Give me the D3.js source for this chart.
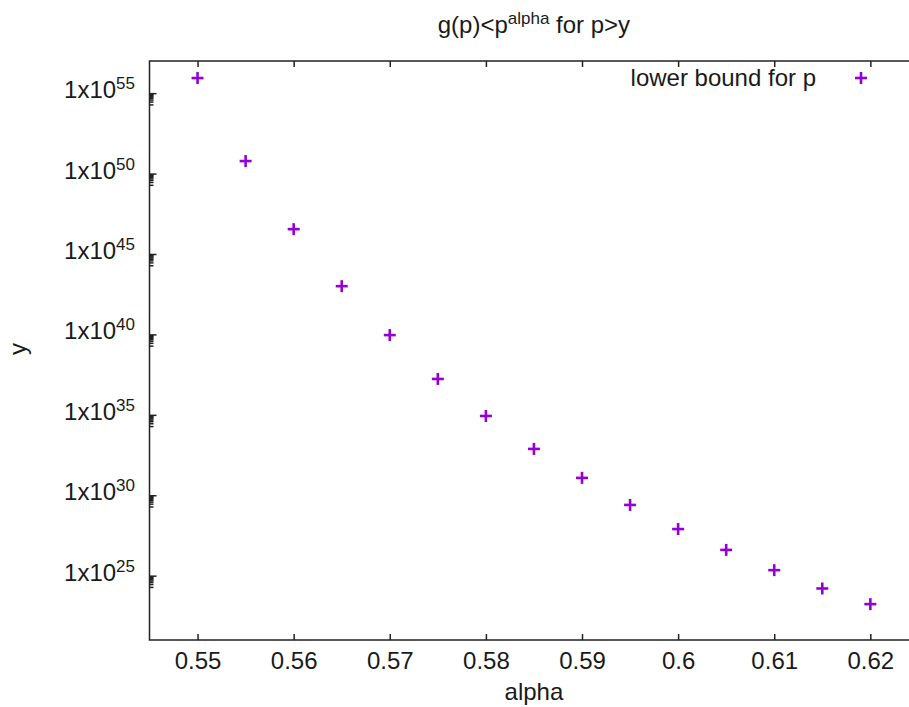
<!DOCTYPE html>
<html>
<head>
<meta charset="utf-8">
<script src="https://cdn.jsdelivr.net/npm/d3@7"></script>
<style>
  body { margin: 0; background: #fff; }
  text { font-family: "Liberation Sans", Arial, sans-serif; fill: #1a1a1a; }
  .axis path, .axis line { stroke: #222; stroke-width: 1.5; }
  .mark { stroke: #9400d3; stroke-width: 2.6; }
</style>
</head>
<body>
<svg id="chart"></svg>
<script>
var width = 909,
    height = 707;

// data
var alphas = [0.55, 0.555, 0.56, 0.565, 0.57, 0.575, 0.58, 0.585, 0.59, 0.595, 0.6, 0.605, 0.61, 0.615, 0.62];
var bounds = [8.7e55, 6.0e50, 3.5e46, 1.0e43, 9.1e39, 1.7e37, 8.5e34, 7.6e32, 1.2e31, 2.5e29, 7.9e27, 4.0e26, 2.2e25, 1.6e24, 1.7e23];
var xTicks = [0.55, 0.56, 0.57, 0.58, 0.59, 0.6, 0.61, 0.62];
var yExponents = [25, 30, 35, 40, 45, 50, 55];

var plotL = 149.5, plotR = 918.4, plotT = 61, plotB = 640;
var fs = 24, sup = 17;

var x = d3.scaleLinear().domain([0.545, 0.625]).range([plotL, plotR]);
var y = d3.scaleLog().domain([1e21, 1e57]).range([plotB, plotT]);

var svg = d3.select("#chart").attr("width", width).attr("height", height);

// border
svg.append("rect")
   .attr("x", plotL).attr("y", plotT)
   .attr("width", plotR - plotL).attr("height", plotB - plotT)
   .attr("fill", "none").attr("stroke", "#222").attr("stroke-width", 1.5);

// x axis (ticks point inward)
var xAxis = svg.append("g")
   .attr("class", "axis")
   .attr("transform", "translate(0," + plotB + ")")
   .call(d3.axisBottom(x).tickValues(xTicks).tickSize(-6).tickPadding(12)
         .tickFormat(function(d) { return d3.format("")(+d.toFixed(2)); }));
xAxis.select(".domain").remove();
xAxis.selectAll("text").attr("font-size", fs).attr("fill", "#1a1a1a");

var xTop = svg.append("g")
   .attr("class", "axis")
   .attr("transform", "translate(0," + plotT + ")")
   .call(d3.axisTop(x).tickValues(xTicks).tickSize(-6).tickFormat(""));
xTop.select(".domain").remove();

// y axis: major ticks every 5 decades, minor ticks at 2..9 x 10^(n-1)
var majors = yExponents.map(function(e) { return Math.pow(10, e); });
var minors = [];
yExponents.forEach(function(e) {
  for (var k = 2; k <= 9; k++) minors.push(k * Math.pow(10, e - 1));
});

var yAxis = svg.append("g")
   .attr("class", "axis")
   .attr("transform", "translate(" + plotL + ",0)")
   .call(d3.axisLeft(y).tickValues(majors).tickSize(-7).tickFormat(""));
yAxis.select(".domain").remove();

var yMinor = svg.append("g")
   .attr("class", "axis")
   .attr("transform", "translate(" + plotL + ",0)")
   .call(d3.axisLeft(y).tickValues(minors).tickSize(-4).tickFormat(""));
yMinor.select(".domain").remove();

var ylab = svg.selectAll("text.ylab")
   .data(yExponents)
   .enter().append("text")
     .attr("class", "ylab")
     .attr("x", 135)
     .attr("y", function(d) { return y(Math.pow(10, d)) + 5; })
     .attr("text-anchor", "end")
     .attr("font-size", fs);
ylab.append("tspan").text("1x10");
ylab.append("tspan").attr("dy", -9).attr("font-size", sup).text(function(d) { return d; });

// points
var pts = svg.selectAll("g.pt")
   .data(alphas)
   .enter().append("g")
     .attr("class", "pt")
     .attr("transform", function(d, i) { return "translate(" + x(d) + "," + y(bounds[i]) + ")"; });
pts.append("line").attr("class", "mark").attr("x1", -6).attr("x2", 6);
pts.append("line").attr("class", "mark").attr("y1", -6).attr("y2", 6);

// legend
svg.append("text")
   .attr("x", 816).attr("y", 86)
   .attr("text-anchor", "end")
   .attr("font-size", fs)
   .text("lower bound for p");
var lg = svg.append("g").attr("transform", "translate(861,78)");
lg.append("line").attr("class", "mark").attr("x1", -6).attr("x2", 6);
lg.append("line").attr("class", "mark").attr("y1", -6).attr("y2", 6);

// title
var title = svg.append("text")
   .attr("x", (plotL + plotR) / 2).attr("y", 33)
   .attr("text-anchor", "middle")
   .attr("font-size", fs);
title.append("tspan").text("g(p)<p");
title.append("tspan").attr("dy", -9).attr("font-size", sup).text("alpha");
title.append("tspan").attr("dy", 9).text(" for p>y");

// axis labels
svg.append("text")
   .attr("x", (plotL + plotR) / 2).attr("y", 700)
   .attr("text-anchor", "middle")
   .attr("font-size", fs)
   .text("alpha");

svg.append("text")
   .attr("transform", "translate(26,349) rotate(-90)")
   .attr("text-anchor", "middle")
   .attr("font-size", fs)
   .text("y");
</script>
</body>
</html>
